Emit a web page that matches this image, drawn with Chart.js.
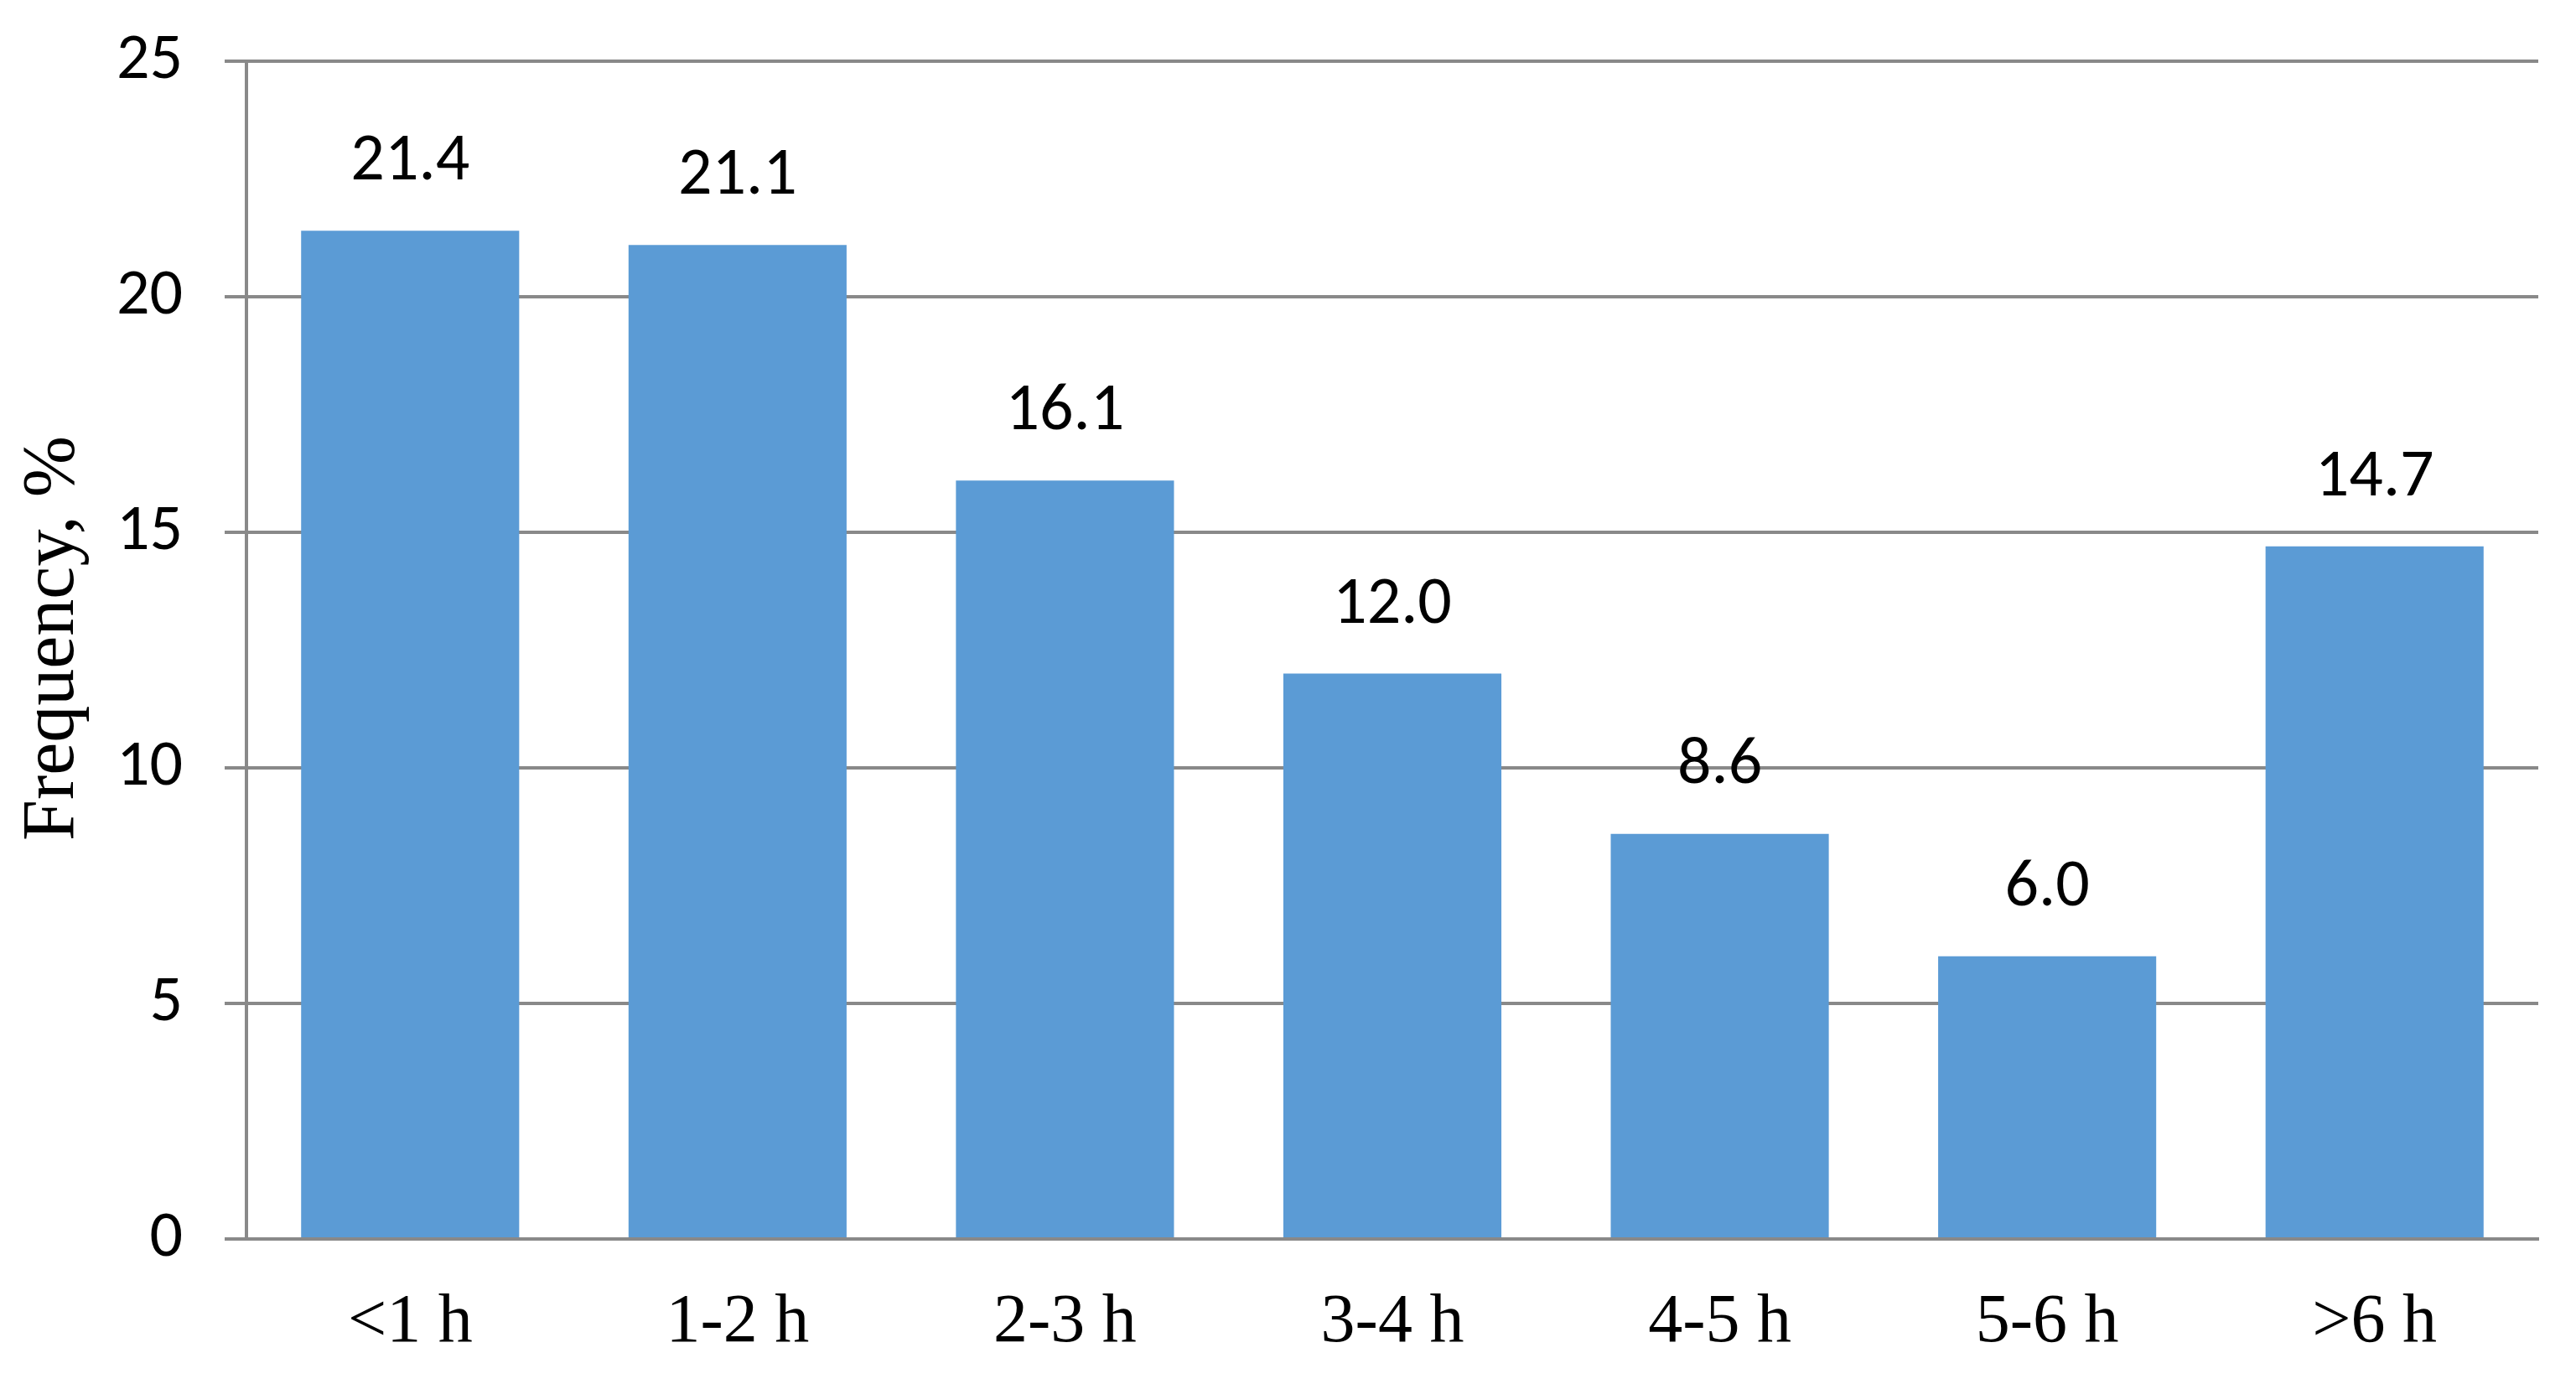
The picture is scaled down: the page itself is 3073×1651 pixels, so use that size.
<!DOCTYPE html>
<html>
<head>
<meta charset="utf-8">
<script src="https://cdn.jsdelivr.net/npm/chart.js@4/dist/chart.umd.min.js"></script>
<style>
  html, body { margin: 0; padding: 0; background: #ffffff; }
  #wrap { width: 3073px; height: 1651px; position: relative; }
</style>
</head>
<body>
<div id="wrap"><canvas id="c" width="3073" height="1651"></canvas></div>
<script>
const categories = ['<1 h', '1-2 h', '2-3 h', '3-4 h', '4-5 h', '5-6 h', '>6 h'];
const frequency = [21.4, 21.1, 16.1, 12.0, 8.6, 6.0, 14.7];
const yTicks = [0, 5, 10, 15, 20, 25];
const yTitle = 'Frequency, %';

const gridColor = '#898989';
const barColor = '#5B9BD5';
const sansFont = 'Carlito, Lato, Calibri, sans-serif';
const serifFont = '"Liberation Serif", "Times New Roman", serif';

const valueLabels = {
  id: 'valueLabels',
  afterDatasetsDraw(chart) {
    const ctx = chart.ctx;
    const meta = chart.getDatasetMeta(0);
    ctx.save();
    ctx.fillStyle = '#000000';
    ctx.font = '80px ' + sansFont;
    ctx.textAlign = 'center';
    ctx.textBaseline = 'alphabetic';
    meta.data.forEach((bar, i) => {
      ctx.fillText(frequency[i].toFixed(1), bar.x, bar.y - 61);
    });
    ctx.restore();
  }
};

const axisTitle = {
  id: 'axisTitle',
  afterDraw(chart) {
    const ctx = chart.ctx;
    const area = chart.chartArea;
    ctx.save();
    ctx.fillStyle = '#000000';
    ctx.font = '88px ' + serifFont;
    ctx.textAlign = 'center';
    ctx.textBaseline = 'middle';
    ctx.translate(64, (area.top + area.bottom) / 2 - 14);
    ctx.rotate(-Math.PI / 2);
    ctx.fillText(yTitle, 0, 0);
    ctx.restore();
  }
};

new Chart(document.getElementById('c'), {
  type: 'bar',
  data: {
    labels: categories,
    datasets: [{
      data: frequency,
      backgroundColor: barColor,
      borderWidth: 0,
      categoryPercentage: 1.0,
      barPercentage: 0.666
    }]
  },
  options: {
    responsive: false,
    animation: false,
    devicePixelRatio: 1,
    layout: { padding: { left: 0, right: 45, top: 73, bottom: 0 } },
    plugins: {
      legend: { display: false },
      tooltip: { enabled: false }
    },
    scales: {
      x: {
        grid: { display: false, drawTicks: false },
        border: { display: true, color: gridColor, width: 4 },
        ticks: {
          color: '#000000',
          font: { family: serifFont, size: 82 },
          padding: 51,
          maxRotation: 0,
          autoSkip: false
        },
        afterFit(scale) { scale.height = 173; }
      },
      y: {
        min: 0,
        max: 25,
        afterBuildTicks(scale) { scale.ticks = yTicks.map(v => ({ value: v })); },
        grid: {
          color: gridColor,
          lineWidth: 4,
          drawTicks: true,
          tickLength: 26,
          tickColor: gridColor,
          tickWidth: 4
        },
        border: { display: true, color: gridColor, width: 4 },
        ticks: {
          color: '#000000',
          font: { family: sansFont, size: 78 },
          padding: 50
        },
        title: { display: false },
        afterFit(scale) {
          scale.width = 294;
          scale.paddingTop = 0;
          scale.paddingBottom = 0;
        }
      }
    }
  },
  plugins: [valueLabels, axisTitle]
});
</script>
</body>
</html>
